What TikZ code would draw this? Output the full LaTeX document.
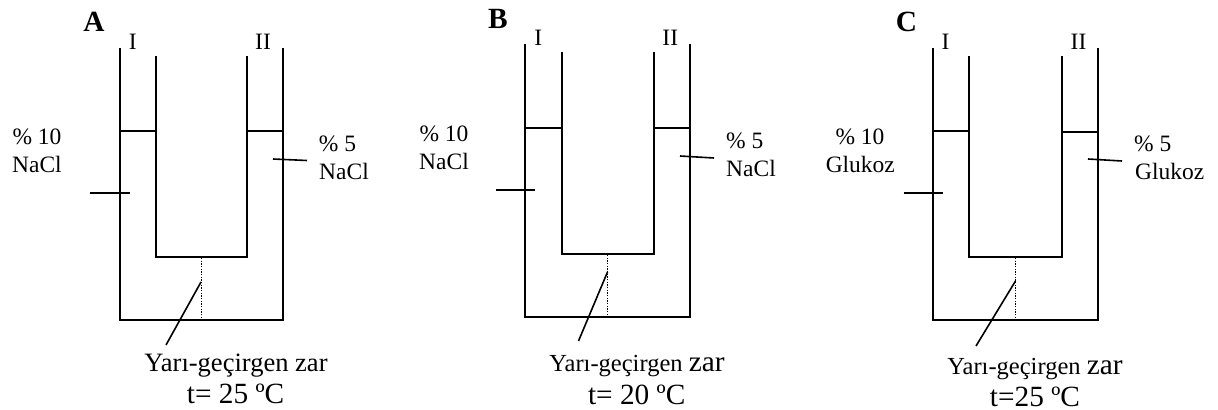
\documentclass[tikz,border=0pt]{standalone}
\usepackage{fontspec}
\setmainfont{Liberation Serif}
\tikzset{
  x=0.75pt,y=-0.75pt,
  wall/.style={line width=1.5pt,line cap=butt,line join=miter,black},
  lead/.style={line width=1.2pt,black},
  zar/.style={line width=0.5pt,dash pattern=on 1pt off 1pt,black},
  txt/.style={anchor=base,inner sep=0pt,font=\fontsize{17.6pt}{20pt}\selectfont},
  panel/.style={anchor=base,inner sep=0pt,font=\fontsize{22pt}{24pt}\selectfont\bfseries},
  yari/.style={anchor=base,inner sep=0pt,font=\fontsize{19.9pt}{22pt}\selectfont},
  temp/.style={anchor=base,inner sep=0pt,font=\fontsize{22pt}{24pt}\selectfont}
}
\newcommand{\ysm}{\fontsize{18.4pt}{22pt}\selectfont}
\newcommand{\ybg}{\fontsize{22pt}{22pt}\selectfont}
\begin{document}
\begin{tikzpicture}
\useasboundingbox (0,0) rectangle (1218,410);
% Panel A
\draw[wall] (120,48) -- (120,319.5) -- (283,319.5) -- (283,48);
\draw[wall] (156,56) -- (156,257) -- (247,257) -- (247,56);
\draw[wall] (120,131) -- (156,131);
\draw[wall] (247,131.5) -- (283,131.5);
\draw[zar] (201,258) -- (201,319);
\draw[lead] (201,282) -- (166,345);
\draw[lead] (90,193) -- (130,193);
\draw[lead] (273,159) -- (307,160.5);
\node[panel] (la) at (94,32) {A};
\node[txt] (a1) at (132.7,50) {I};
\node[txt] (a2) at (263,50) {II};
\node[txt] (a3) at (37,145) {\% 10};
\node[txt] (a4) at (37,172.7) {NaCl};
\node[txt] (a5) at (337.5,151.7) {\% 5};
\node[txt] (a6) at (344,180) {NaCl};
\node[yari] (a7) at (236,371) {Yarı-geçirgen zar};
\node[temp] (a8) at (235.6,403) {t= 25 ºC};
% Panel B
\draw[wall] (525,44) -- (525,317) -- (690,317) -- (690,44);
\draw[wall] (561.5,52) -- (561.5,254) -- (653.5,254) -- (653.5,52);
\draw[wall] (525,128) -- (561.5,128);
\draw[wall] (653.5,128.5) -- (690,128.5);
\draw[zar] (607.5,255) -- (607.5,316);
\draw[lead] (607.5,272) -- (578.5,341);
\draw[lead] (496,190) -- (535,190);
\draw[lead] (680,156) -- (714,158);
\node[panel] (lb) at (498,28.3) {B};
\node[txt] (b1) at (538.3,45.7) {I};
\node[txt] (b2) at (670.3,45.7) {II};
\node[txt] (b3) at (444,142) {\% 10};
\node[txt] (b4) at (444,170) {NaCl};
\node[txt] (b5) at (744.7,148.5) {\% 5};
\node[txt] (b6) at (751,176.7) {NaCl};
\node[yari] (b7) at (637,371) {\ysm Yarı-geçirgen {\ybg zar}};
\node[temp] (b8) at (636.7,404) {t= 20 ºC};
% Panel C
\draw[wall] (933,48) -- (933,319.5) -- (1097.5,319.5) -- (1097.5,48);
\draw[wall] (969,56) -- (969,257) -- (1061.5,257) -- (1061.5,56);
\draw[wall] (933,131) -- (969,131);
\draw[wall] (1061.5,132) -- (1097.5,132);
\draw[zar] (1015.5,258) -- (1015.5,319);
\draw[lead] (1015.5,281) -- (976,346);
\draw[lead] (903.5,193) -- (943,193);
\draw[lead] (1088,159) -- (1122,161);
\node[panel] (lc) at (906.5,32) {C};
\node[txt] (c1) at (945.5,50) {I};
\node[txt] (c2) at (1078.5,50) {II};
\node[txt] (c3) at (860,145) {\% 10};
\node[txt] (c4) at (860.3,172.7) {Glukoz};
\node[txt] (c5) at (1152.7,151.7) {\% 5};
\node[txt] (c6) at (1169.7,180) {Glukoz};
\node[yari] (c7) at (1035,374) {\ysm Yarı-geçirgen {\ybg zar}};
\node[temp] (c8) at (1035,406) {t=25 ºC};
\end{tikzpicture}
\end{document}
